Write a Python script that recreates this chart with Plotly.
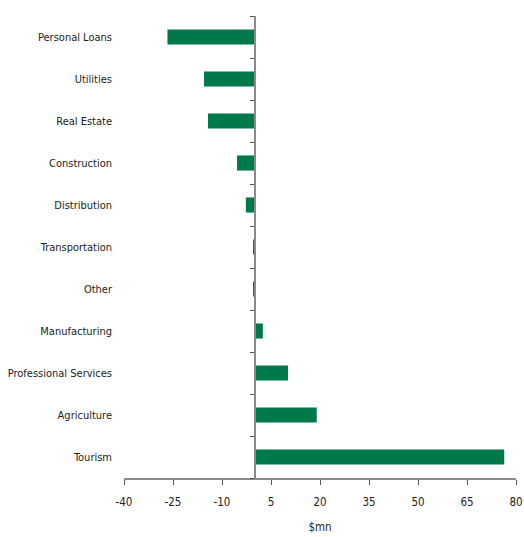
import plotly.graph_objects as go

categories = ["Personal Loans", "Utilities", "Real Estate", "Construction", "Distribution",
              "Transportation", "Other", "Manufacturing", "Professional Services",
              "Agriculture", "Tourism"]
values = [-26.7, -15.5, -14.3, -5.4, -2.7, -0.4, -0.3, 2.5, 10.2, 19.0, 76.4]
x_ticks = [-40, -25, -10, 5, 20, 35, 50, 65, 80]

FONT = "DejaVu Sans Condensed, Liberation Sans Narrow, sans-serif"
GREEN = "#00794A"
AXIS = "#8a8a8a"
TXT = "#222222"
FS = 11

order = categories[::-1]  # Tourism at the bottom

fig = go.Figure()
fig.add_trace(go.Bar(
    y=categories, x=values, orientation="h",
    marker=dict(color=GREEN, line=dict(width=0)),
    showlegend=False, hoverinfo="x+y",
))
# invisible trace to carry the zero-positioned y axis line/ticks
fig.add_trace(go.Bar(
    y=categories, x=[None] * len(categories), orientation="h",
    yaxis="y2", showlegend=False, hoverinfo="skip",
))

xmin, xmax = -40, 80
fig.update_layout(
    width=524, height=537,
    margin=dict(l=124, r=8, t=16, b=59),
    paper_bgcolor="white", plot_bgcolor="white",
    bargap=0.64,
    font=dict(family=FONT, size=FS, color=TXT),
    xaxis=dict(
        range=[xmin, xmax], tickvals=x_ticks, ticktext=[str(v) for v in x_ticks],
        showgrid=False, zeroline=False, automargin=False,
        showline=True, linecolor=AXIS, linewidth=1.5,
        ticks="outside", ticklen=5, tickcolor="#555555", tickwidth=1,
        ticklabelstandoff=7,
        tickfont=dict(size=FS + 0.5),
        title=dict(text="$mn", font=dict(family=FONT, size=FS + 0.5, color=TXT), standoff=15),
        domain=[0, 1],
    ),
    yaxis=dict(
        categoryorder="array", categoryarray=order, automargin=False,
        showgrid=False, zeroline=False, showline=False, ticks="",
        ticklabelstandoff=11,
        range=[-0.5, len(categories) - 0.5],
    ),
    yaxis2=dict(
        overlaying="y", matches="y", anchor="free",
        position=(0 - xmin) / (xmax - xmin),
        categoryorder="array", categoryarray=order,
        showticklabels=False, showgrid=False, zeroline=False,
        showline=True, linecolor=AXIS, linewidth=1.5,
        ticks="outside", tickson="boundaries", ticklen=4, tickcolor="#555555",
    ),
)

fig.write_html("out.html")
